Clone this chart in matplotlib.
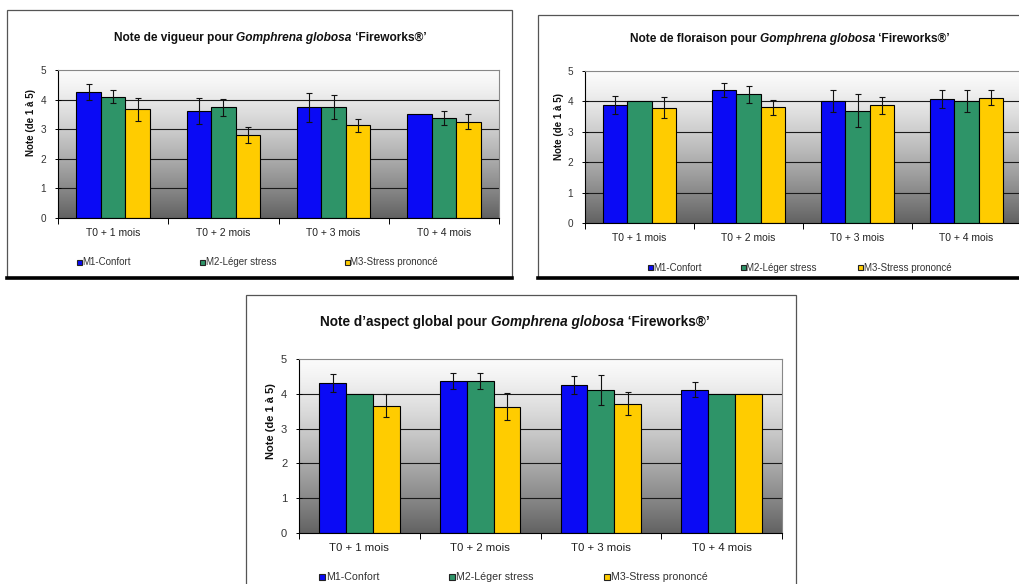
import numpy as np
import matplotlib
matplotlib.use("Agg")
import matplotlib.pyplot as plt
from matplotlib.patches import Rectangle
from matplotlib.lines import Line2D

plt.rcParams['font.family'] = ['Liberation Sans', 'DejaVu Sans']

# ---------------- data ----------------
categories = ["T0 + 1 mois", "T0 + 2 mois", "T0 + 3 mois", "T0 + 4 mois"]
series_names = ["M1-Confort", "M2-Léger stress", "M3-Stress prononcé"]
series_colors = ["#0A0AF5", "#2E9468", "#FFCC00"]

vigueur_m1 = [4.26, 3.62, 3.74, 3.50]
vigueur_m2 = [4.10, 3.74, 3.74, 3.38]
vigueur_m3 = [3.67, 2.81, 3.13, 3.26]
vigueur_err_m1 = [0.26, 0.45, 0.49, 0.0]
vigueur_err_m2 = [0.21, 0.29, 0.40, 0.23]
vigueur_err_m3 = [0.40, 0.26, 0.23, 0.25]

floraison_m1 = [3.88, 4.37, 4.00, 4.07]
floraison_m2 = [4.00, 4.23, 3.69, 4.00]
floraison_m3 = [3.79, 3.81, 3.87, 4.12]
floraison_err_m1 = [0.29, 0.22, 0.36, 0.29]
floraison_err_m2 = [0.0, 0.28, 0.54, 0.36]
floraison_err_m3 = [0.34, 0.25, 0.29, 0.24]

aspect_m1 = [4.32, 4.37, 4.24, 4.12]
aspect_m2 = [4.00, 4.37, 4.12, 4.00]
aspect_m3 = [3.66, 3.63, 3.71, 4.00]
aspect_err_m1 = [0.26, 0.23, 0.26, 0.22]
aspect_err_m2 = [0.0, 0.23, 0.43, 0.0]
aspect_err_m3 = [0.32, 0.38, 0.33, 0.0]

titles = [("Note de vigueur pour ", "Gomphrena globosa", " \u2018Fireworks®\u2019"),
          ("Note de floraison pour ", "Gomphrena globosa", " \u2018Fireworks®\u2019"),
          ("Note d\u2019aspect global pour ", "Gomphrena globosa", " \u2018Fireworks®\u2019")]
ylabel = "Note (de 1 à 5)"

# ---------------- figure ----------------
W, H = 1019, 584
fig = plt.figure(figsize=(W / 100, H / 100), dpi=100)
fig.patch.set_facecolor("white")
renderer = fig.canvas.get_renderer()


def fx(x):
    return x / W


def fy(y):
    return 1 - y / H


def frame(x0, y0, x1, y1):
    fig.add_artist(Rectangle((fx(x0), fy(y1)), fx(x1) - fx(x0), fy(y0) - fy(y1),
                             transform=fig.transFigure, facecolor="none",
                             edgecolor="#555555", linewidth=0.9, zorder=0))
    if y1 < H:
        fig.add_artist(Line2D([fx(x0), fx(x1)], [fy(y1), fy(y1)], transform=fig.transFigure,
                              color="black", linewidth=2.6, zorder=1))


def title(parts, cx, cy, size):
    styles = ["normal", "italic", "normal"]
    texts = [fig.text(0, fy(cy), p, fontsize=size, fontweight="bold", style=s,
                      va="center", ha="left", color="#111111")
             for p, s in zip(parts, styles)]
    widths = [t.get_window_extent(renderer).width for t in texts]
    x = cx - sum(widths) / 2
    for t, w in zip(texts, widths):
        t.set_x(fx(x))
        x += w


def chart(box, values, errs, tsize, lsize, ysize, leg_y, leg_x, leg_space, ylab_pos):
    x0, y0, x1, y1 = box
    ax = fig.add_axes([fx(x0), fy(y1), fx(x1) - fx(x0), fy(y0) - fy(y1)])
    n = len(categories)
    ax.set_xlim(-0.5, n - 0.5)
    ax.set_ylim(0, 5)
    # gradient background
    t = np.linspace(0, 1, 256)[:, None]
    g = 0.985 - 0.6 * t ** 1.3
    img = np.dstack([g, g, g])
    ax.imshow(img, extent=[-0.5, n - 0.5, 0, 5], aspect="auto", origin="upper",
              zorder=0, interpolation="bilinear")
    for yv in [1, 2, 3, 4]:
        ax.axhline(yv, color="#1a1a1a", linewidth=0.8, zorder=1)
    bw = 1 / 4.5
    xs = np.arange(n)
    for i, (vals, er, col) in enumerate(zip(values, errs, series_colors)):
        pos = xs + (i - 1) * bw
        ax.bar(pos, vals, width=bw, color=col, edgecolor="black", linewidth=0.8,
               zorder=2, label=series_names[i])
        er = np.array(er)
        m = er > 0
        ax.errorbar(pos[m], np.array(vals)[m], yerr=er[m], fmt="none", ecolor="#111111",
                    elinewidth=0.8, capsize=2.2, capthick=0.8, zorder=3)
    for s in ["top", "right"]:
        ax.spines[s].set_color("#888888")
        ax.spines[s].set_linewidth(0.8)
    for s in ["left", "bottom"]:
        ax.spines[s].set_color("black")
        ax.spines[s].set_linewidth(0.8)
    ax.set_yticks([0, 1, 2, 3, 4, 5])
    ax.tick_params(axis="y", direction="inout", length=5, width=0.7, labelsize=ysize,
                   labelcolor="#333333", pad=6)
    ax.set_xticks(xs)
    ax.set_xticklabels(categories, fontsize=lsize, color="#222222")
    ax.set_xticks(np.arange(-0.5, n, 1.0), minor=True)
    ax.tick_params(axis="x", which="major", length=0, pad=7)
    ax.tick_params(axis="x", which="minor", direction="out", length=4, width=0.7)
    fig.text(fx(ylab_pos[0]), fy(ylab_pos[1]), ylabel, rotation=90, fontsize=tsize,
             fontweight="bold", ha="center", va="center", color="#111111")
    # legend
    for i, name in enumerate(series_names):
        lx = leg_x[i]
        sq = 5 * leg_space
        fig.add_artist(Rectangle((fx(lx - sq / 2), fy(leg_y + sq / 2)), fx(sq), sq / H,
                                 transform=fig.transFigure, facecolor=series_colors[i],
                                 edgecolor="#222222", linewidth=0.8))
        fig.text(fx(lx + sq / 2 + 1), fy(leg_y), name, fontsize=lsize - 0.5, va="center",
                 ha="left", color="#333333")
    return ax


# chart 1
frame(7, 10, 512, 278)
title(titles[0], 270, 38, 8.6)
chart((58, 70, 499, 218),
      [vigueur_m1, vigueur_m2, vigueur_m3],
      [vigueur_err_m1, vigueur_err_m2, vigueur_err_m3],
      7.0, 7.5, 7.2, 262, [79, 202, 347], 1.0, (31, 122))

# chart 2
frame(538, 15, 1030, 278)
title(titles[1], 790, 39, 8.6)
chart((585, 71, 1021, 223),
      [floraison_m1, floraison_m2, floraison_m3],
      [floraison_err_m1, floraison_err_m2, floraison_err_m3],
      7.0, 7.5, 7.2, 268, [650, 743, 860], 1.0, (559, 126))

# chart 3
frame(246, 295, 796, 600)
title(titles[2], 515, 322, 9.8)
chart((299, 359, 782, 533),
      [aspect_m1, aspect_m2, aspect_m3],
      [aspect_err_m1, aspect_err_m2, aspect_err_m3],
      8.0, 8.2, 8.0, 577, [322, 452, 607], 1.1, (271, 421))

fig.savefig("out.png", dpi=100, facecolor="white")
